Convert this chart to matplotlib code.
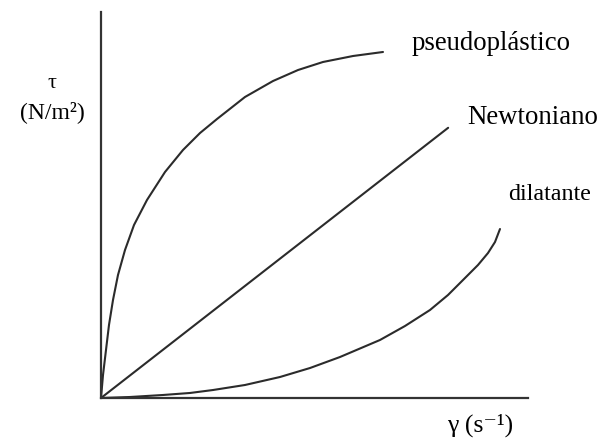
import matplotlib
matplotlib.use('Agg')
import matplotlib.pyplot as plt

# curve points (shear rate, shear stress, arbitrary units)
aPseudo_x = [0.0, 0.047, 0.117, 0.187, 0.281, 0.398, 0.562, 0.773, 1.077, 1.499,
             1.920, 2.319, 2.717, 3.372, 4.028, 4.614, 5.199, 5.902, 6.604]
aPseudo_y = [0.0, 0.596, 1.244, 1.891, 2.539, 3.187, 3.834, 4.482, 5.130, 5.855,
             6.425, 6.865, 7.228, 7.798, 8.212, 8.497, 8.705, 8.860, 8.964]

aNewton_x = [0.0, 8.13]
aNewton_y = [0.0, 7.00]

aDilat_x = [0.0, 0.679, 1.452, 2.084, 2.623, 3.372, 4.192, 4.895, 5.597, 6.534,
            7.119, 7.705, 8.126, 8.478, 8.829, 9.063, 9.227, 9.344]
aDilat_y = [0.0, 0.026, 0.078, 0.130, 0.207, 0.337, 0.544, 0.777, 1.062, 1.503,
            1.865, 2.280, 2.668, 3.057, 3.446, 3.756, 4.041, 4.378]

aLabels = ['pseudoplástico', 'Newtoniano', 'dilatante']

plt.rcParams['font.family'] = ['Liberation Serif', 'DejaVu Serif']

W, H = 603, 442
fig = plt.figure(figsize=(W / 100, H / 100), dpi=100)
ax = fig.add_axes([101 / W, 1 - 398 / H, (528 - 101) / W, (398 - 12) / H])

sColor = '#2b2b2b'
for x, y in [(aPseudo_x, aPseudo_y), (aNewton_x, aNewton_y), (aDilat_x, aDilat_y)]:
    ax.plot(x, y, color=sColor, lw=1.5, solid_capstyle='round', solid_joinstyle='round')

ax.set_xlim(0, 10)
ax.set_ylim(0, 10)
ax.spines['top'].set_visible(False)
ax.spines['right'].set_visible(False)
for s in ['left', 'bottom']:
    ax.spines[s].set_color('#333333')
    ax.spines[s].set_linewidth(1.6)
ax.set_xticks([])
ax.set_yticks([])

# curve labels
fig.text(412 / W, 1 - 44 / H, aLabels[0], fontsize=19.3, va='center', ha='left')
fig.text(467 / W, 1 - 117 / H, aLabels[1], fontsize=19.3, va='center', ha='left')
fig.text(508 / W, 1 - 195 / H, aLabels[2], fontsize=17.3, va='center', ha='left')

# axis labels
fig.text(52 / W, 1 - 84 / H, 'τ', fontsize=16, va='center', ha='center')
fig.text(52 / W, 1 - 112 / H, '(N/m²)', fontsize=17, va='center', ha='center')
fig.text(480 / W, 1 - 425 / H, 'γ (s⁻¹)', fontsize=18.5, va='center', ha='center')

fig.savefig('out.png', dpi=100)
